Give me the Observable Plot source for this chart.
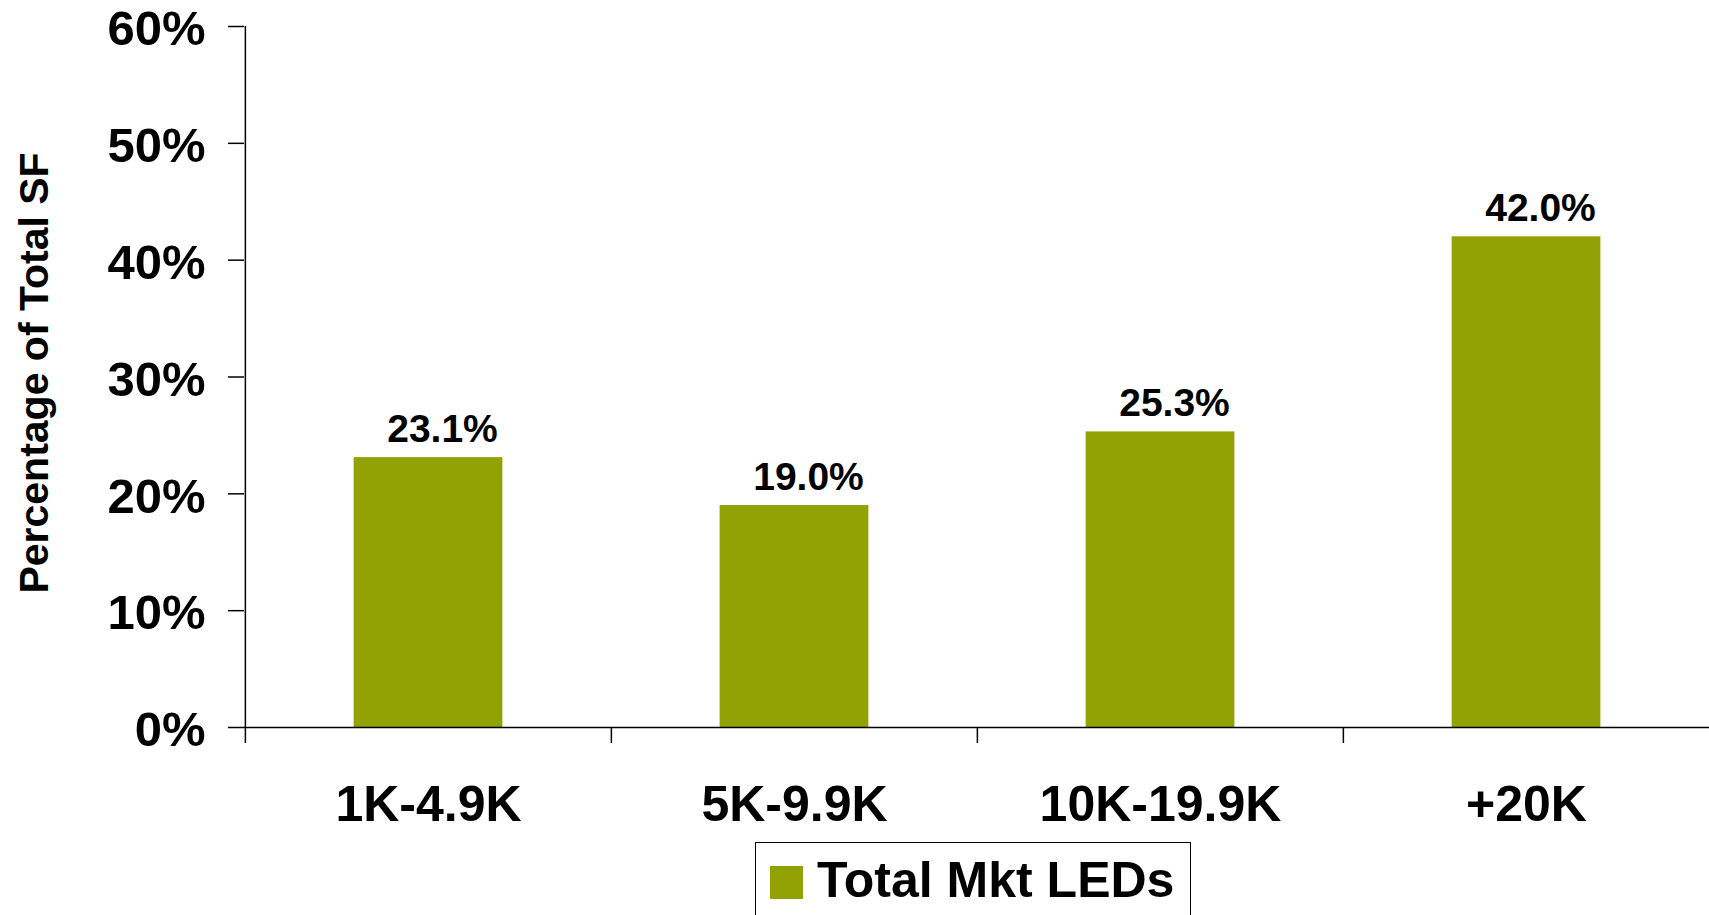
<!DOCTYPE html>
<html>
<head>
<meta charset="utf-8">
<script src="https://cdn.jsdelivr.net/npm/d3@7"></script>
<script src="https://cdn.jsdelivr.net/npm/@observablehq/plot@0.6"></script>
<style>
  html, body { margin: 0; padding: 0; background: #fff; overflow: hidden; }
  body { width: 1709px; height: 915px; font-family: "Liberation Sans", Arial, sans-serif; }
  #legend { position: relative; margin-left: 755px; margin-top: 7px; width: 436px; height: 110px;
            border: 1.5px solid #000; box-sizing: border-box; }
  #legend .sw { position: absolute; left: 14px; top: 23px; width: 33px; height: 33px; }
  #legend .lb { position: absolute; left: 61px; top: 12px; font-size: 50px; font-weight: bold; color: #000; line-height: 1; white-space: nowrap; }
</style>
</head>
<body>
<div id="chart"></div>
<div id="legend"><div class="sw"></div><div class="lb"></div></div>
<script>
const categories = ["1K-4.9K", "5K-9.9K", "10K-19.9K", "+20K"];
const values = [23.1, 19.0, 25.3, 42.0];
const yTicks = [0, 10, 20, 30, 40, 50, 60];
const seriesName = "Total Mkt LEDs";
const yTitle = "Percentage of Total SF";
const barColor = "#92a104";

const data = categories.map((c, i) => ({cat: c, value: values[i]}));

const W = 1709, H = 835;
const mL = 244, mR = 0, mT = 26, mB = H - 727;
const step = (W - mL - mR) / categories.length;
const barW = 149;
const inset = (step - barW) / 2;
const font = "Liberation Sans, Arial, sans-serif";

const chart = Plot.plot({
  width: W,
  height: H,
  marginLeft: mL,
  marginRight: mR,
  marginTop: mT,
  marginBottom: mB,
  style: {fontFamily: font, color: "#000", background: "#fff", overflow: "visible"},
  x: {domain: categories, padding: 0},
  y: {domain: [0, 60]},
  marks: [
    Plot.barY(data, {x: "cat", y: "value", fill: barColor, insetLeft: inset, insetRight: inset}),
    Plot.ruleY([0], {stroke: "#000", strokeWidth: 1.5}),
    Plot.ruleX([categories[0]], {dx: -step / 2, stroke: "#000", strokeWidth: 1.5}),
    Plot.ruleX(categories, {x: d => d, y1: 0, y2: 0, insetBottom: -16, dx: -step / 2, stroke: "#000", strokeWidth: 1.5}),
    Plot.axisY({ticks: yTicks, text: null, tickSize: 16, label: null, stroke: "#000", strokeWidth: 1.5}),
    Plot.axisY({ticks: yTicks, tickFormat: d => d + "%", tickSize: 0, tickPadding: 39, dy: 3,
                fontSize: 49, fontWeight: "bold", label: null}),
    Plot.axisX({tickSize: 0, tickPadding: 58, fontSize: 50, fontWeight: "bold", label: null}),
    Plot.text(data, {x: "cat", y: "value", text: d => d.value.toFixed(1) + "%", lineAnchor: "bottom",
                     dy: -16, dx: 14, fontSize: 39, fontWeight: "bold", fill: "#000"}),
    Plot.text([yTitle], {frameAnchor: "left", rotate: -90, textAnchor: "middle", lineAnchor: "bottom",
                         dx: 47 - mL, dy: -4, fontSize: 41, fontWeight: "bold", fill: "#000"})
  ]
});
document.getElementById("chart").appendChild(chart);
document.querySelector("#legend .sw").style.background = barColor;
document.querySelector("#legend .lb").textContent = seriesName;
</script>
</body>
</html>
